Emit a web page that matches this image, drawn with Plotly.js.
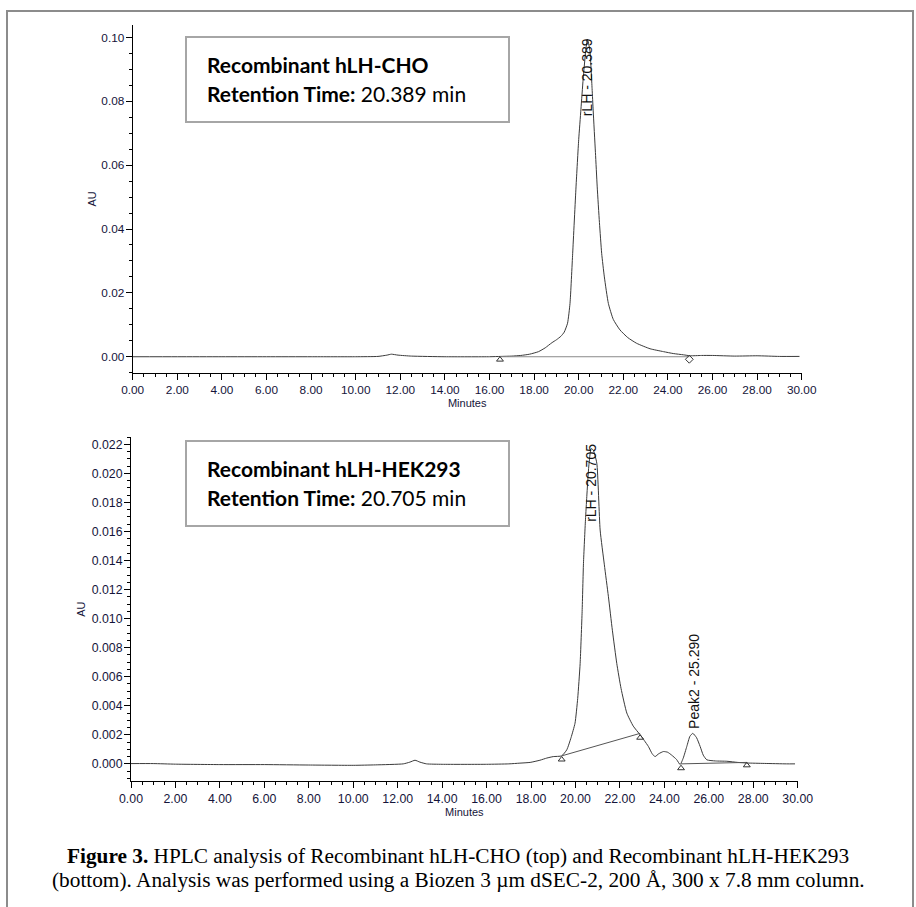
<!DOCTYPE html>
<html>
<head>
<meta charset="utf-8">
<script src="https://cdn.plot.ly/plotly-3.0.1.min.js"></script>
<style>
  html, body { margin: 0; padding: 0; background: #ffffff; }
  #chart { width: 916px; height: 907px; }
</style>
</head>
<body>
<div id="chart"></div>
<script>
// ---------- Top chromatogram: Recombinant hLH-CHO ----------
const choMinutes = [0, 2, 4, 6, 8, 10, 11.0, 11.4, 11.6, 11.9, 12.5, 14, 16, 16.5, 17.0, 17.4, 17.8, 18.2, 18.5, 18.8, 19.0, 19.2, 19.35, 19.5, 19.61, 19.73, 19.88, 20.0, 20.1, 20.2, 20.31, 20.39, 20.5, 20.6, 20.65, 20.75, 20.83, 20.93, 21.03, 21.15, 21.33, 21.55, 21.85, 22.2, 22.6, 23.2, 23.8, 24.24, 24.7, 25.0, 25.5, 26.0, 27.0, 28.0, 29.0, 29.9];
const choAU = [0, 0, 0, 0, 0, 0, 0.0001, 0.0005, 0.0008, 0.0005, 0.0002, 0, 0, 0.0001, 0.0002, 0.0004, 0.0008, 0.0016, 0.0028, 0.0044, 0.0053, 0.0064, 0.0077, 0.0105, 0.0167, 0.0324, 0.0532, 0.0680, 0.0775, 0.0870, 0.0955, 0.0995, 0.0960, 0.0840, 0.0770, 0.0640, 0.0532, 0.0420, 0.0324, 0.0250, 0.0167, 0.0117, 0.0084, 0.0060, 0.0042, 0.0025, 0.0016, 0.0010, 0.0006, 0.0003, 0.0004, 0.0004, 0.0002, 0.0003, 0.0001, 0.0001];
const choBaseMinutes = [16.47, 24.96];
const choBaseAU = [0.0, 0.0];
const choMarkMinutes = [16.47, 24.96];
const choMarkAU = [-0.0009, -0.0008];
const choPeakLabel = "rLH - 20.389";
const choPeakTime = 20.389;
const choLabelAU = 0.0751;

// ---------- Bottom chromatogram: Recombinant hLH-HEK293 ----------
const hekMinutes = [0, 1, 2, 4, 6, 8, 10, 11, 12.25, 12.55, 12.78, 13.0, 13.3, 14, 16, 17, 17.5, 17.96, 18.4, 18.71, 19.0, 19.38, 19.61, 19.8, 19.98, 20.1, 20.21, 20.3, 20.36, 20.45, 20.51, 20.6, 20.705, 20.8, 20.96, 21.11, 21.3, 21.48, 21.66, 21.86, 22.05, 22.31, 22.6, 22.91, 23.1, 23.28, 23.45, 23.58, 23.75, 23.96, 24.15, 24.33, 24.55, 24.71, 24.85, 25.01, 25.15, 25.28, 25.45, 25.61, 25.75, 25.91, 26.3, 26.81, 27.3, 27.71, 28.5, 29.5, 29.88];
const hekAU = [0.00002, 0.00002, -0.00002, -0.00005, -0.00005, -0.00008, -0.0001, -0.00007, 0.0, 0.00012, 0.00025, 0.00012, 0.0, -0.00003, -0.00003, 0.0, 0.00005, 0.0001, 0.00025, 0.0004, 0.0005, 0.00055, 0.00097, 0.0018, 0.0028, 0.0045, 0.0069, 0.0105, 0.0138, 0.0168, 0.0184, 0.0205, 0.0217, 0.0216, 0.0207, 0.0161, 0.0137, 0.01154, 0.0092, 0.0069, 0.0052, 0.0035, 0.0026, 0.0020, 0.0016, 0.0012, 0.0007, 0.0005, 0.0007, 0.00085, 0.0008, 0.0006, 0.0003, -0.00005, 0.0004, 0.0012, 0.0019, 0.0021, 0.0018, 0.0012, 0.0006, 0.00028, 0.0002, 0.00018, 0.0001, 0.00006, 0.00003, 0.0, 0.0];
const hekBase1Minutes = [19.38, 22.91];
const hekBase1AU = [0.00055, 0.0021];
const hekBase2Minutes = [24.75, 27.71];
const hekBase2AU = [0.0, 0.0001];
const hekMarkMinutes = [19.38, 22.91, 24.75, 27.71];
const hekMarkAU = [0.0003, 0.0018, -0.0003, -0.0001];
const hekPeakLabels = ["rLH - 20.705", "Peak2 - 25.290"];
const hekPeakTimes = [20.705, 25.36];
const hekLabelAU = [0.0166, 0.00234];

// ---------- Text ----------
const boxLines = [
  ["Recombinant hLH-CHO", "20.389 min"],
  ["Recombinant hLH-HEK293", "20.705 min"]
];
const captionLine1 = "<b>Figure 3.</b> HPLC analysis of Recombinant hLH-CHO (top) and Recombinant hLH-HEK293";
const captionLine2 = "(bottom). Analysis was performed using a Biozen 3 µm dSEC-2, 200 Å, 300 x 7.8 mm column.";

// ---------- Figure ----------
const W = 916, H = 907;
const px = v => v / W;
const py = v => 1 - v / H;

const curveColor = '#3a3a3a';
const labelFamily = 'Liberation Sans, Arial, sans-serif';
const topTickFont = {family: labelFamily, size: 11.8, color: '#14143a'};
const botTickFont = {family: labelFamily, size: 12.3, color: '#14143a'};
const titleFont = {family: labelFamily, size: 11, color: '#14143a'};

const traces = [
  {x: choMinutes, y: choAU, xaxis: 'x', yaxis: 'y', mode: 'lines', line: {color: curveColor, width: 1, shape: 'spline', smoothing: 0.5}, showlegend: false},
  {x: choBaseMinutes, y: choBaseAU, xaxis: 'x', yaxis: 'y', mode: 'lines', line: {color: '#8a8a8a', width: 1}, showlegend: false},
  {x: choMarkMinutes, y: choMarkAU, xaxis: 'x', yaxis: 'y', mode: 'markers', marker: {symbol: ['triangle-up-open', 'diamond-open'], size: 6, color: '#333', line: {width: 1}}, showlegend: false},
  {x: hekMinutes, y: hekAU, xaxis: 'x2', yaxis: 'y2', mode: 'lines', line: {color: curveColor, width: 1, shape: 'spline', smoothing: 0.5}, showlegend: false},
  {x: hekBase1Minutes, y: hekBase1AU, xaxis: 'x2', yaxis: 'y2', mode: 'lines', line: {color: '#555', width: 1}, showlegend: false},
  {x: hekBase2Minutes, y: hekBase2AU, xaxis: 'x2', yaxis: 'y2', mode: 'lines', line: {color: '#555', width: 1}, showlegend: false},
  {x: hekMarkMinutes, y: hekMarkAU, xaxis: 'x2', yaxis: 'y2', mode: 'markers', marker: {symbol: 'triangle-up-open', size: 6, color: '#333', line: {width: 1}}, showlegend: false}
];

function xAxis(domain, anchor, tf) {
  return {
    domain: domain, anchor: anchor, range: [0, 30], dtick: 2, tick0: 0, tickformat: '.2f',
    showline: true, linecolor: '#000', linewidth: 1, ticks: 'outside', ticklen: 6, tickcolor: '#000',
    minor: {dtick: 0.5, ticks: 'outside', ticklen: 3, tickcolor: '#000'},
    showgrid: false, zeroline: false, tickfont: tf,
    title: {text: 'Minutes', font: titleFont, standoff: 3}
  };
}
function yAxis(domain, anchor, range, dtick, minorD, fmt, standoff, tf) {
  return {
    domain: domain, anchor: anchor, range: range, dtick: dtick, tick0: 0, tickformat: fmt,
    showline: true, linecolor: '#000', linewidth: 1, ticks: 'outside', ticklen: 6, tickcolor: '#000',
    minor: {dtick: minorD, ticks: 'outside', ticklen: 3, tickcolor: '#000'},
    showgrid: false, zeroline: false, tickfont: tf, ticklabelstandoff: -1,
    title: {text: 'AU', font: titleFont, standoff: standoff}
  };
}

const boxFont = {family: 'Lato, Carlito, Calibri, sans-serif', size: 21, color: '#000'};
const peakFont = {family: labelFamily, size: 14, color: '#111'};
const capFont = {family: 'Liberation Serif, Times New Roman, serif', size: 21.3, color: '#000'};
const annotations = [
  {xref: 'paper', yref: 'paper', x: px(205), y: py(65), xanchor: 'left', yanchor: 'middle', showarrow: false, align: 'left', text: '<b>' + boxLines[0][0] + '</b>', font: boxFont},
  {xref: 'paper', yref: 'paper', x: px(205), y: py(93.5), xanchor: 'left', yanchor: 'middle', showarrow: false, align: 'left', text: '<b>Retention Time:</b> ' + boxLines[0][1], font: boxFont},
  {xref: 'paper', yref: 'paper', x: px(205), y: py(468), xanchor: 'left', yanchor: 'middle', showarrow: false, align: 'left', text: '<b>' + boxLines[1][0] + '</b>', font: boxFont},
  {xref: 'paper', yref: 'paper', x: px(205), y: py(498), xanchor: 'left', yanchor: 'middle', showarrow: false, align: 'left', text: '<b>Retention Time:</b> ' + boxLines[1][1], font: boxFont},
  {xref: 'x', yref: 'y', x: choPeakTime, y: choLabelAU, xanchor: 'center', yanchor: 'bottom', textangle: -90, showarrow: false, text: choPeakLabel, font: peakFont, borderpad: 0},
  {xref: 'x2', yref: 'y2', x: hekPeakTimes[0], y: hekLabelAU[0], xanchor: 'center', yanchor: 'bottom', textangle: -90, showarrow: false, text: hekPeakLabels[0], font: peakFont, borderpad: 0},
  {xref: 'x2', yref: 'y2', x: hekPeakTimes[1], y: hekLabelAU[1], xanchor: 'center', yanchor: 'bottom', textangle: -90, showarrow: false, text: hekPeakLabels[1], font: peakFont, borderpad: 0},
  {xref: 'paper', yref: 'paper', x: 0.5, y: py(856), xanchor: 'center', yanchor: 'middle', showarrow: false, text: captionLine1, font: capFont},
  {xref: 'paper', yref: 'paper', x: 0.5, y: py(880), xanchor: 'center', yanchor: 'middle', showarrow: false, text: captionLine2, font: capFont}
];

const shapes = [
  {type: 'rect', xref: 'paper', yref: 'paper', x0: px(7), x1: px(913), y0: -0.02, y1: py(11), line: {color: '#8c8c8c', width: 2}, fillcolor: 'rgba(0,0,0,0)', layer: 'below'},
  {type: 'rect', xref: 'paper', yref: 'paper', x0: px(186), x1: px(509), y0: py(122), y1: py(37), line: {color: '#a6a6a6', width: 2}, fillcolor: '#fff', layer: 'above'},
  {type: 'rect', xref: 'paper', yref: 'paper', x0: px(186), x1: px(509), y0: py(526), y1: py(441), line: {color: '#a6a6a6', width: 2}, fillcolor: '#fff', layer: 'above'}
];

const layout = {
  width: W, height: H,
  margin: {l: 0, r: 0, t: 0, b: 0},
  paper_bgcolor: '#ffffff', plot_bgcolor: 'rgba(0,0,0,0)',
  showlegend: false,
  xaxis: xAxis([px(132.7), px(801.7)], 'y', topTickFont),
  yaxis: yAxis([py(372.7), py(25)], 'x', [-0.005, 0.1039], 0.02, 0.005, '.2f', 2, topTickFont),
  xaxis2: xAxis([px(131), px(797.7)], 'y2', botTickFont),
  yaxis2: yAxis([py(781.3), py(437)], 'x2', [-0.0012, 0.0225], 0.002, 0.0005, '.3f', 3, botTickFont),
  annotations: annotations,
  shapes: shapes
};

Plotly.newPlot('chart', traces, layout, {displayModeBar: false, staticPlot: true});
</script>
</body>
</html>
